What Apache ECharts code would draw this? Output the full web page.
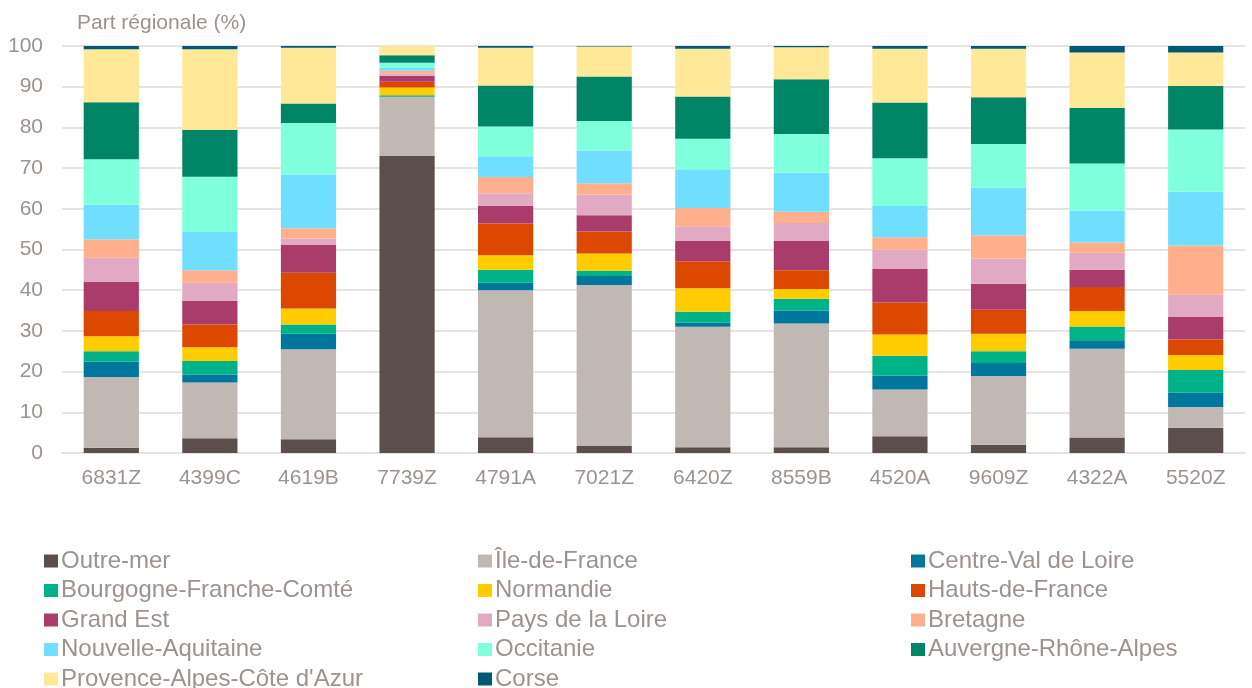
<!DOCTYPE html>
<html>
<head>
<meta charset="utf-8">
<title>Part régionale</title>
<script src="https://cdn.jsdelivr.net/npm/echarts@6/dist/echarts.min.js"></script>
<style>
  html, body { margin: 0; padding: 0; background: #fff; }
  #chart { width: 1252px; height: 688px; }
</style>
</head>
<body>
<div id="chart"></div>
<script>
// codes APE
const categories = ['6831Z', '4399C', '4619B', '7739Z', '4791A', '7021Z', '6420Z', '8559B', '4520A', '9609Z', '4322A', '5520Z']

// part de chaque région (%)
const outreMer = [1.3, 3.6, 3.4, 73.0, 3.9, 1.7, 1.4, 1.4, 4.1, 2.0, 3.8, 6.2]
const ileDeFrance = [17.4, 13.7, 22.1, 14.5, 36.1, 39.6, 29.6, 30.4, 11.5, 16.9, 21.8, 5.1]
const centreValDeLoire = [3.8, 1.9, 3.8, 0.1, 1.8, 2.2, 1.0, 3.2, 3.4, 3.2, 1.9, 3.5]
const bourgogneFC = [2.5, 3.4, 2.3, 0.3, 3.2, 1.3, 2.7, 2.9, 4.9, 2.9, 3.6, 5.6]
const normandie = [3.7, 3.4, 3.9, 1.9, 3.6, 4.2, 5.8, 2.4, 5.2, 4.3, 3.8, 3.7]
const hautsDeFrance = [6.2, 5.6, 8.8, 1.4, 7.8, 5.4, 6.6, 4.6, 7.9, 5.9, 5.9, 3.8]
const grandEst = [7.1, 5.8, 6.8, 1.5, 4.3, 4.0, 5.0, 7.2, 8.2, 6.4, 4.2, 5.5]
const paysDeLaLoire = [6.0, 4.4, 1.6, 0.5, 3.1, 5.1, 3.6, 4.4, 4.8, 6.2, 4.2, 5.5]
const bretagne = [4.5, 3.1, 2.5, 0.7, 4.0, 2.8, 4.5, 2.8, 3.0, 5.7, 2.5, 12.1]
const nouvelleAquitaine = [8.5, 9.4, 13.2, 0.7, 5.1, 8.0, 9.5, 9.6, 7.7, 11.7, 7.8, 13.2]
const occitanie = [11.2, 13.6, 12.7, 1.3, 7.3, 7.3, 7.5, 9.5, 11.7, 10.7, 11.6, 15.3]
const auvergneRA = [14.0, 11.5, 4.8, 1.8, 10.1, 10.9, 10.4, 13.4, 13.7, 11.5, 13.7, 10.7]
const paca = [13.0, 19.8, 13.7, 2.3, 9.3, 7.4, 11.7, 7.9, 13.2, 11.9, 13.6, 8.2]
const corse = [0.8, 0.8, 0.4, 0.2, 0.4, 0.1, 0.7, 0.3, 0.7, 0.7, 1.6, 1.6]

const yTicks = { min: 0, max: 100, interval: 10 }

const regions = [
  { name: 'Outre-mer', data: outreMer, color: '#5C4F4B' },
  { name: 'Île-de-France', data: ileDeFrance, color: '#C2B8B3' },
  { name: 'Centre-Val de Loire', data: centreValDeLoire, color: '#00789E' },
  { name: 'Bourgogne-Franche-Comté', data: bourgogneFC, color: '#00B288' },
  { name: 'Normandie', data: normandie, color: '#FFCC00' },
  { name: 'Hauts-de-France', data: hautsDeFrance, color: '#DD4800' },
  { name: 'Grand Est', data: grandEst, color: '#A93C6A' },
  { name: 'Pays de la Loire', data: paysDeLaLoire, color: '#E2AAC2' },
  { name: 'Bretagne', data: bretagne, color: '#FFAF8B' },
  { name: 'Nouvelle-Aquitaine', data: nouvelleAquitaine, color: '#70DFFF' },
  { name: 'Occitanie', data: occitanie, color: '#7FFFDB' },
  { name: 'Auvergne-Rhône-Alpes', data: auvergneRA, color: '#008566' },
  { name: "Provence-Alpes-Côte d'Azur", data: paca, color: '#FFE999' },
  { name: 'Corse', data: corse, color: '#005A76' }
]

const textColor = '#9D928D'
const font = '"Liberation Sans", Arial, sans-serif'

// legende en 3 colonnes, lue ligne par ligne
const legendCols = [0, 1, 2].map(c => regions.filter((r, i) => i % 3 === c).map(r => r.name))
const legendLeft = [44, 478, 911]

const chart = echarts.init(document.getElementById('chart'))
chart.setOption({
  animation: false,
  title: {
    text: 'Part régionale (%)',
    left: 72,
    top: 8,
    textStyle: { color: textColor, fontSize: 21, fontWeight: 'normal', fontFamily: font }
  },
  grid: { left: 62, right: 7, top: 46, bottom: 235 },
  legend: legendCols.map((names, c) => ({
    data: names,
    orient: 'vertical',
    left: legendLeft[c],
    top: 549,
    height: 200,
    padding: 0,
    itemWidth: 14,
    itemHeight: 13,
    itemGap: 5.5,
    icon: 'rect',
    selectedMode: false,
    textStyle: { color: textColor, fontSize: 24, fontFamily: font, padding: [0, 0, 0, -2] }
  })),
  xAxis: {
    type: 'category',
    data: categories,
    axisLine: { show: true, lineStyle: { color: '#E8E3E3', width: 2 } },
    axisTick: { show: false },
    axisLabel: { color: textColor, fontSize: 21, fontFamily: font, margin: 15 }
  },
  yAxis: {
    type: 'value',
    min: yTicks.min,
    max: yTicks.max,
    interval: yTicks.interval,
    axisLine: { show: false },
    axisTick: { show: false },
    splitLine: { lineStyle: { color: '#E8E3E3', width: 2 } },
    axisLabel: { color: textColor, fontSize: 21, fontFamily: font, margin: 19 }
  },
  series: regions.map(r => ({
    name: r.name,
    type: 'bar',
    stack: 'total',
    barWidth: '56%',
    data: r.data,
    itemStyle: { color: r.color }
  }))
})
</script>
</body>
</html>
